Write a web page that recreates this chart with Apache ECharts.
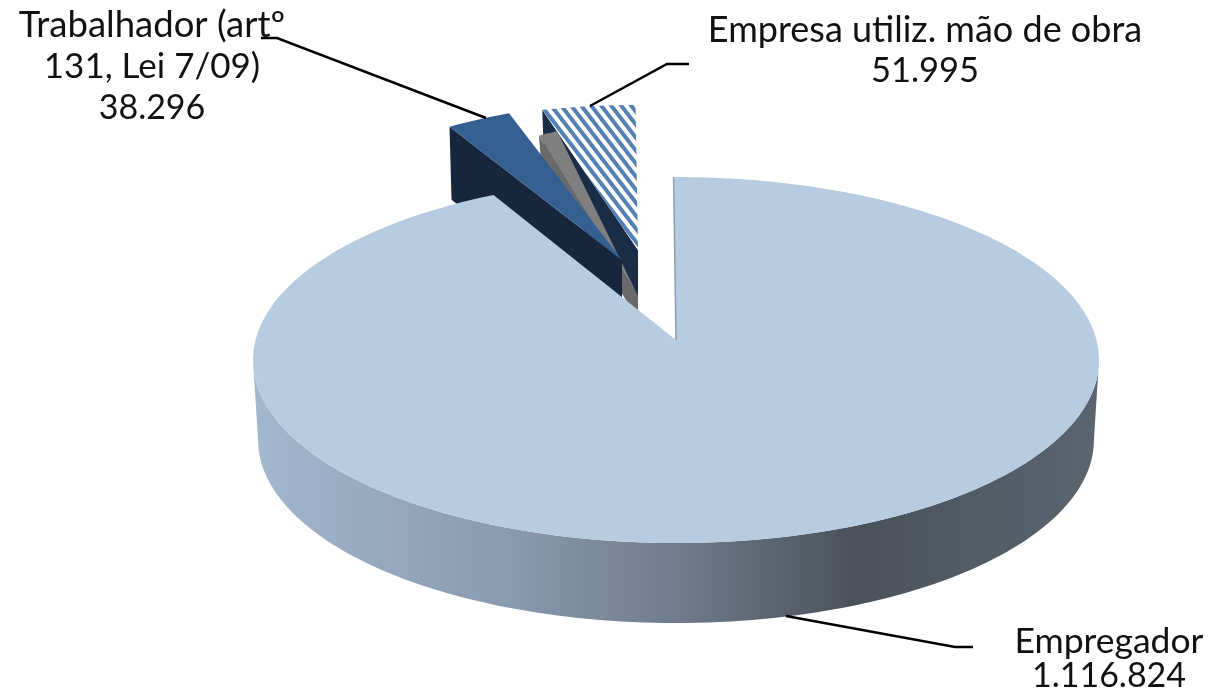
<!DOCTYPE html>
<html><head><meta charset="utf-8">
<style>html,body{margin:0;padding:0;background:#fff}#c{width:1209px;height:690px}</style>
<script src="https://cdn.jsdelivr.net/npm/echarts@6/dist/echarts.min.js"></script>
</head><body><div id="c"></div>
<script>
// Data, clockwise from 12 o'clock
const categories = ['Empregador', 'Trabalhador (artº 131, Lei 7/09)', 'Outros', 'Empresa utiliz. mão de obra'];
const seriesValues = [1116824, 38296, 13000, 51995];
const labelLines = [['Empregador', '1.116.824'], ['Trabalhador (artº', '131, Lei 7/09)', '38.296'], [], ['Empresa utiliz. mão de obra', '51.995']];

// Presentation of each slice (projection of the tilted pie, explosion, colours)
const START = -0.4;
const views = [
  {apex:[676,340], c:[676,360], rx:423, ry:183, kx:385, depth:80, top:'#B7CBE1', side:'#17263D'},
  {apex:[622,260], c:[622,254], rx:325, ry:150, depth:73, top:'#355F91', side:'#17263D'},
  {apex:[638,296], c:[638,272], rx:236, ry:150, kx:261, depth:24, top:'#7F7F7F', side:'#6A6A6A'},
  {apex:[638,250], c:[638,268], rx:395, ry:163, depth:58, top:'hatch', side:'#1B2C47'}
];
const labelPos = [
  {x:1109, y:[642,676], size:[35.5,34]},
  {x:152, y:[25,67,108], size:[36.5,35,34]},
  null,
  {x:925, y:[30,71], size:[36,34.5]}
];
const leaders = [
  [[786,616],[955,647],[973,647]],
  [[261,38],[277,38],[486,118]],
  null,
  [[689,64],[667,64],[590,106]]
];

function hatch(){
  const w=10,h=13,cv=document.createElement('canvas');cv.width=w;cv.height=h;
  const g=cv.getContext('2d');g.fillStyle='#fff';g.fillRect(0,0,w,h);
  g.strokeStyle='#5580B3';g.lineWidth=4;
  [-10,0,10].forEach(o=>{g.beginPath();g.moveTo(o-w,-h);g.lineTo(o+2*w,2*h);g.stroke();});
  return {image:cv,repeat:'repeat'};
}
const hatchFill = hatch();
const total = seriesValues.reduce((a,b)=>a+b,0);
const P = d=>d*Math.PI/180;
// A ray from the slice apex at true angle th meets the rim ellipse at this ellipse angle
function rimAngle(v,th){
  const dx=Math.sin(P(th))*(v.kx||v.rx), dy=-Math.cos(P(th))*v.ry;
  const ox=v.apex[0]-v.c[0], oy=v.apex[1]-v.c[1];
  const A=dx*dx/(v.rx*v.rx)+dy*dy/(v.ry*v.ry);
  const B=2*(ox*dx/(v.rx*v.rx)+oy*dy/(v.ry*v.ry));
  const C=ox*ox/(v.rx*v.rx)+oy*oy/(v.ry*v.ry)-1;
  const t=(-B+Math.sqrt(B*B-4*A*C))/(2*A);
  const x=(ox+t*dx)/v.rx, y=(oy+t*dy)/v.ry;
  return Math.atan2(x,-y)*180/Math.PI;
}
function arc(v,a0,a1,dy,sc){
  const out=[],n=Math.max(2,Math.ceil(Math.abs(a1-a0)/1.5));sc=sc||1;
  for(let i=0;i<=n;i++){const a=P(a0+(a1-a0)*i/n);
    out.push([v.c[0]+v.rx*sc*Math.sin(a),v.c[1]+(dy||0)-v.ry*Math.cos(a)]);}
  return out;
}
function poly(points,fill){return {type:'polygon',shape:{points},style:{fill,stroke:null}};}

function renderItem(params,api){
  const idx=api.value(1), val=api.value(0), v=views[idx];
  let before=0; for(let i=0;i<idx;i++) before+=seriesValues[i];
  const th0=START+before/total*360, th1=th0+val/total*360;
  const a0=rimAngle(v,th0); let a1=rimAngle(v,th1);
  while(a1<a0) a1+=360;
  const children=[];
  const fill=v.top==='hatch'?hatchFill:v.top;
  if(idx===0){
    const topArc=arc(v,90,270), botArc=arc(v,270,90,v.depth,0.988);
    children.push(poly(topArc.concat(botArc),{type:'linear',x:253,y:0,x2:1099,y2:0,global:true,colorStops:[
      {offset:0,color:'#A3B7CF'},{offset:.3,color:'#8A9AAF'},{offset:.5,color:'#6F7C8D'},
      {offset:.71,color:'#4A5159'},{offset:1,color:'#5A6570'}]}));
    children.push(poly([v.apex].concat(arc(v,a0,a1)),fill));
    const r=arc(v,a0,a0)[0];
    children.push({type:'line',shape:{x1:r[0],y1:r[1],x2:v.apex[0],y2:v.apex[1]},style:{stroke:'#8E9DAF',lineWidth:1.5}});
  } else {
    const rim0=arc(v,a0,a0)[0];
    children.push(poly([v.apex,rim0,[rim0[0]+2,rim0[1]+v.depth],[v.apex[0],v.apex[1]+v.depth]],v.side));
    children.push(poly([v.apex].concat(arc(v,a0,a1)),fill));
  }
  if(leaders[idx]) children.push({type:'polyline',shape:{points:leaders[idx]},style:{fill:null,stroke:'#000',lineWidth:2.5}});
  if(labelPos[idx]) labelLines[idx].forEach((t,i)=>children.push({type:'text',style:{text:t,x:labelPos[idx].x,y:labelPos[idx].y[i],
     align:'center',verticalAlign:'middle',font:labelPos[idx].size[i]+'px Lato',fill:'#111'}}));
  return {type:'group',children};
}

const chart=echarts.init(document.getElementById('c'),null,{renderer:'canvas'});
// Painted back to front: hatched slice, grey sliver, dark blue slice, large slice
const paintOrder=[3,2,1,0];
chart.setOption({
  animation:false,
  backgroundColor:'#fff',
  series:[{type:'custom',coordinateSystem:'none',renderItem,silent:true,
    dimensions:['value','slice'],
    encode:{tooltip:0},
    data:paintOrder.map(i=>({name:categories[i],value:[seriesValues[i],i]}))}]
});
</script></body></html>
